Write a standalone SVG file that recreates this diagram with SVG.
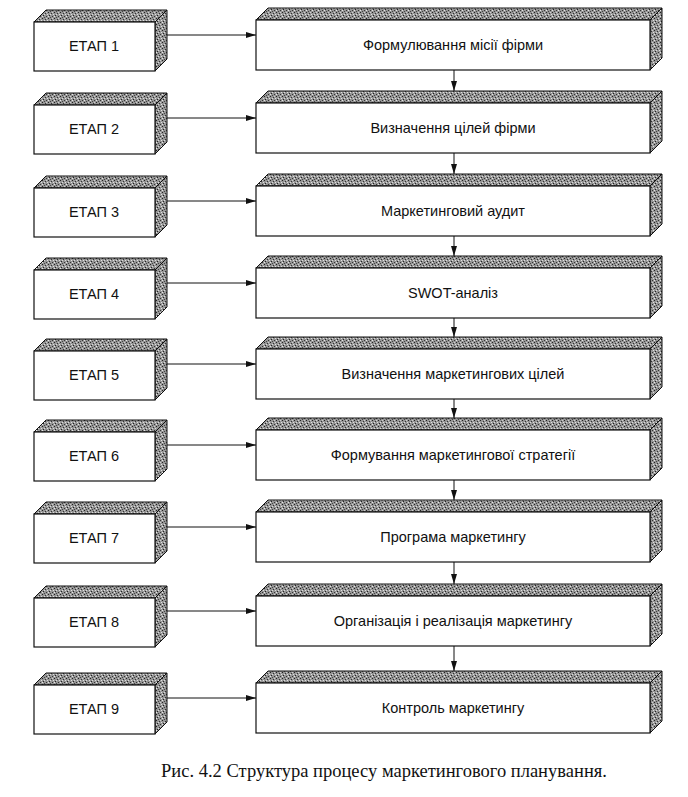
<svg xmlns="http://www.w3.org/2000/svg" width="688" height="797" viewBox="0 0 688 797">
<defs>
<pattern id="tex" width="6" height="6" patternUnits="userSpaceOnUse">
<rect width="6" height="6" fill="#959595"/>
<rect x="0" y="0" width="1" height="1" fill="#222"/>
<rect x="3" y="1" width="1" height="1" fill="#333"/>
<rect x="1" y="3" width="1" height="1" fill="#222"/>
<rect x="4" y="4" width="1" height="1" fill="#333"/>
<rect x="2" y="5" width="1" height="1" fill="#444"/>
<rect x="5" y="2" width="1" height="1" fill="#e0e0e0"/>
<rect x="2" y="2" width="1" height="1" fill="#dcdcdc"/>
<rect x="0" y="4" width="1" height="1" fill="#e8e8e8"/>
<rect x="4" y="0" width="1" height="1" fill="#d0d0d0"/>
</pattern>
<marker id="ah" viewBox="0 0 10 6" refX="10" refY="3" markerWidth="10" markerHeight="6" markerUnits="userSpaceOnUse" orient="auto">
<path d="M0,0 L10,3 L0,6 Z" fill="#111"/>
</marker>
</defs>
<style>
.face{fill:#fff;stroke:#111;stroke-width:1.2}
.shade{fill:url(#tex);stroke:#111;stroke-width:1}
.lbl{font-family:"Liberation Sans",Arial,sans-serif;font-size:14.5px;fill:#111;text-anchor:middle}
.con{stroke:#111;stroke-width:1;fill:none;marker-end:url(#ah)}
.cap{font-family:"Liberation Serif","Times New Roman",serif;font-size:18.5px;fill:#111;text-anchor:middle}
</style>

<g id="connectors">
<line class="con" x1="167" y1="35" x2="256" y2="35"/>
<line class="con" x1="167" y1="118" x2="256" y2="118"/>
<line class="con" x1="167" y1="201" x2="256" y2="201"/>
<line class="con" x1="167" y1="283" x2="256" y2="283"/>
<line class="con" x1="167" y1="364" x2="256" y2="364"/>
<line class="con" x1="167" y1="445" x2="256" y2="445"/>
<line class="con" x1="167" y1="527" x2="256" y2="527"/>
<line class="con" x1="167" y1="611" x2="256" y2="611"/>
<line class="con" x1="167" y1="698" x2="256" y2="698"/>
<line class="con" x1="454" y1="70" x2="454" y2="91"/>
<line class="con" x1="454" y1="153" x2="454" y2="174"/>
<line class="con" x1="454" y1="236" x2="454" y2="256"/>
<line class="con" x1="454" y1="318" x2="454" y2="337"/>
<line class="con" x1="454" y1="399" x2="454" y2="418"/>
<line class="con" x1="454" y1="480" x2="454" y2="500"/>
<line class="con" x1="454" y1="562" x2="454" y2="584"/>
<line class="con" x1="454" y1="646" x2="454" y2="671"/>
</g>

<g id="stage1"><path class="shade" d="M34,22 L46,10 L167,10 L155,22 Z"/><path class="shade" d="M155,22 L167,10 L167,59 L155,71 Z"/><rect class="face" x="34" y="22" width="121" height="49"/><text class="lbl" x="94" y="51">ЕТАП 1</text></g>
<g id="stage2"><path class="shade" d="M34,105 L46,93 L167,93 L155,105 Z"/><path class="shade" d="M155,105 L167,93 L167,142 L155,154 Z"/><rect class="face" x="34" y="105" width="121" height="49"/><text class="lbl" x="94" y="134">ЕТАП 2</text></g>
<g id="stage3"><path class="shade" d="M34,188 L46,176 L167,176 L155,188 Z"/><path class="shade" d="M155,188 L167,176 L167,225 L155,237 Z"/><rect class="face" x="34" y="188" width="121" height="49"/><text class="lbl" x="94" y="217">ЕТАП 3</text></g>
<g id="stage4"><path class="shade" d="M34,270 L46,258 L167,258 L155,270 Z"/><path class="shade" d="M155,270 L167,258 L167,307 L155,319 Z"/><rect class="face" x="34" y="270" width="121" height="49"/><text class="lbl" x="94" y="299">ЕТАП 4</text></g>
<g id="stage5"><path class="shade" d="M34,351 L46,339 L167,339 L155,351 Z"/><path class="shade" d="M155,351 L167,339 L167,388 L155,400 Z"/><rect class="face" x="34" y="351" width="121" height="49"/><text class="lbl" x="94" y="380">ЕТАП 5</text></g>
<g id="stage6"><path class="shade" d="M34,432 L46,420 L167,420 L155,432 Z"/><path class="shade" d="M155,432 L167,420 L167,469 L155,481 Z"/><rect class="face" x="34" y="432" width="121" height="49"/><text class="lbl" x="94" y="461">ЕТАП 6</text></g>
<g id="stage7"><path class="shade" d="M34,514 L46,502 L167,502 L155,514 Z"/><path class="shade" d="M155,514 L167,502 L167,551 L155,563 Z"/><rect class="face" x="34" y="514" width="121" height="49"/><text class="lbl" x="94" y="543">ЕТАП 7</text></g>
<g id="stage8"><path class="shade" d="M34,598 L46,586 L167,586 L155,598 Z"/><path class="shade" d="M155,598 L167,586 L167,635 L155,647 Z"/><rect class="face" x="34" y="598" width="121" height="49"/><text class="lbl" x="94" y="627">ЕТАП 8</text></g>
<g id="stage9"><path class="shade" d="M34,685 L46,673 L167,673 L155,685 Z"/><path class="shade" d="M155,685 L167,673 L167,722 L155,734 Z"/><rect class="face" x="34" y="685" width="121" height="49"/><text class="lbl" x="94" y="714">ЕТАП 9</text></g>

<g id="step1"><path class="shade" d="M256,20 L268,8 L662,8 L650,20 Z"/><path class="shade" d="M650,20 L662,8 L662,58 L650,70 Z"/><rect class="face" x="256" y="20" width="394" height="50"/><text class="lbl" x="453" y="50">Формулювання місії фірми</text></g>
<g id="step2"><path class="shade" d="M256,103 L268,91 L662,91 L650,103 Z"/><path class="shade" d="M650,103 L662,91 L662,141 L650,153 Z"/><rect class="face" x="256" y="103" width="394" height="50"/><text class="lbl" x="453" y="133">Визначення цілей фірми</text></g>
<g id="step3"><path class="shade" d="M256,186 L268,174 L662,174 L650,186 Z"/><path class="shade" d="M650,186 L662,174 L662,224 L650,236 Z"/><rect class="face" x="256" y="186" width="394" height="50"/><text class="lbl" x="453" y="216">Маркетинговий аудит</text></g>
<g id="step4"><path class="shade" d="M256,268 L268,256 L662,256 L650,268 Z"/><path class="shade" d="M650,268 L662,256 L662,306 L650,318 Z"/><rect class="face" x="256" y="268" width="394" height="50"/><text class="lbl" x="453" y="298">SWOT-аналіз</text></g>
<g id="step5"><path class="shade" d="M256,349 L268,337 L662,337 L650,349 Z"/><path class="shade" d="M650,349 L662,337 L662,387 L650,399 Z"/><rect class="face" x="256" y="349" width="394" height="50"/><text class="lbl" x="453" y="379">Визначення маркетингових цілей</text></g>
<g id="step6"><path class="shade" d="M256,430 L268,418 L662,418 L650,430 Z"/><path class="shade" d="M650,430 L662,418 L662,468 L650,480 Z"/><rect class="face" x="256" y="430" width="394" height="50"/><text class="lbl" x="453" y="460">Формування маркетингової стратегії</text></g>
<g id="step7"><path class="shade" d="M256,512 L268,500 L662,500 L650,512 Z"/><path class="shade" d="M650,512 L662,500 L662,550 L650,562 Z"/><rect class="face" x="256" y="512" width="394" height="50"/><text class="lbl" x="453" y="542">Програма маркетингу</text></g>
<g id="step8"><path class="shade" d="M256,596 L268,584 L662,584 L650,596 Z"/><path class="shade" d="M650,596 L662,584 L662,634 L650,646 Z"/><rect class="face" x="256" y="596" width="394" height="50"/><text class="lbl" x="453" y="626">Організація і реалізація маркетингу</text></g>
<g id="step9"><path class="shade" d="M256,683 L268,671 L662,671 L650,683 Z"/><path class="shade" d="M650,683 L662,671 L662,721 L650,733 Z"/><rect class="face" x="256" y="683" width="394" height="50"/><text class="lbl" x="453" y="713">Контроль маркетингу</text></g>

<text class="cap" x="384" y="777">Рис. 4.2  Структура процесу маркетингового планування.</text>
</svg>
